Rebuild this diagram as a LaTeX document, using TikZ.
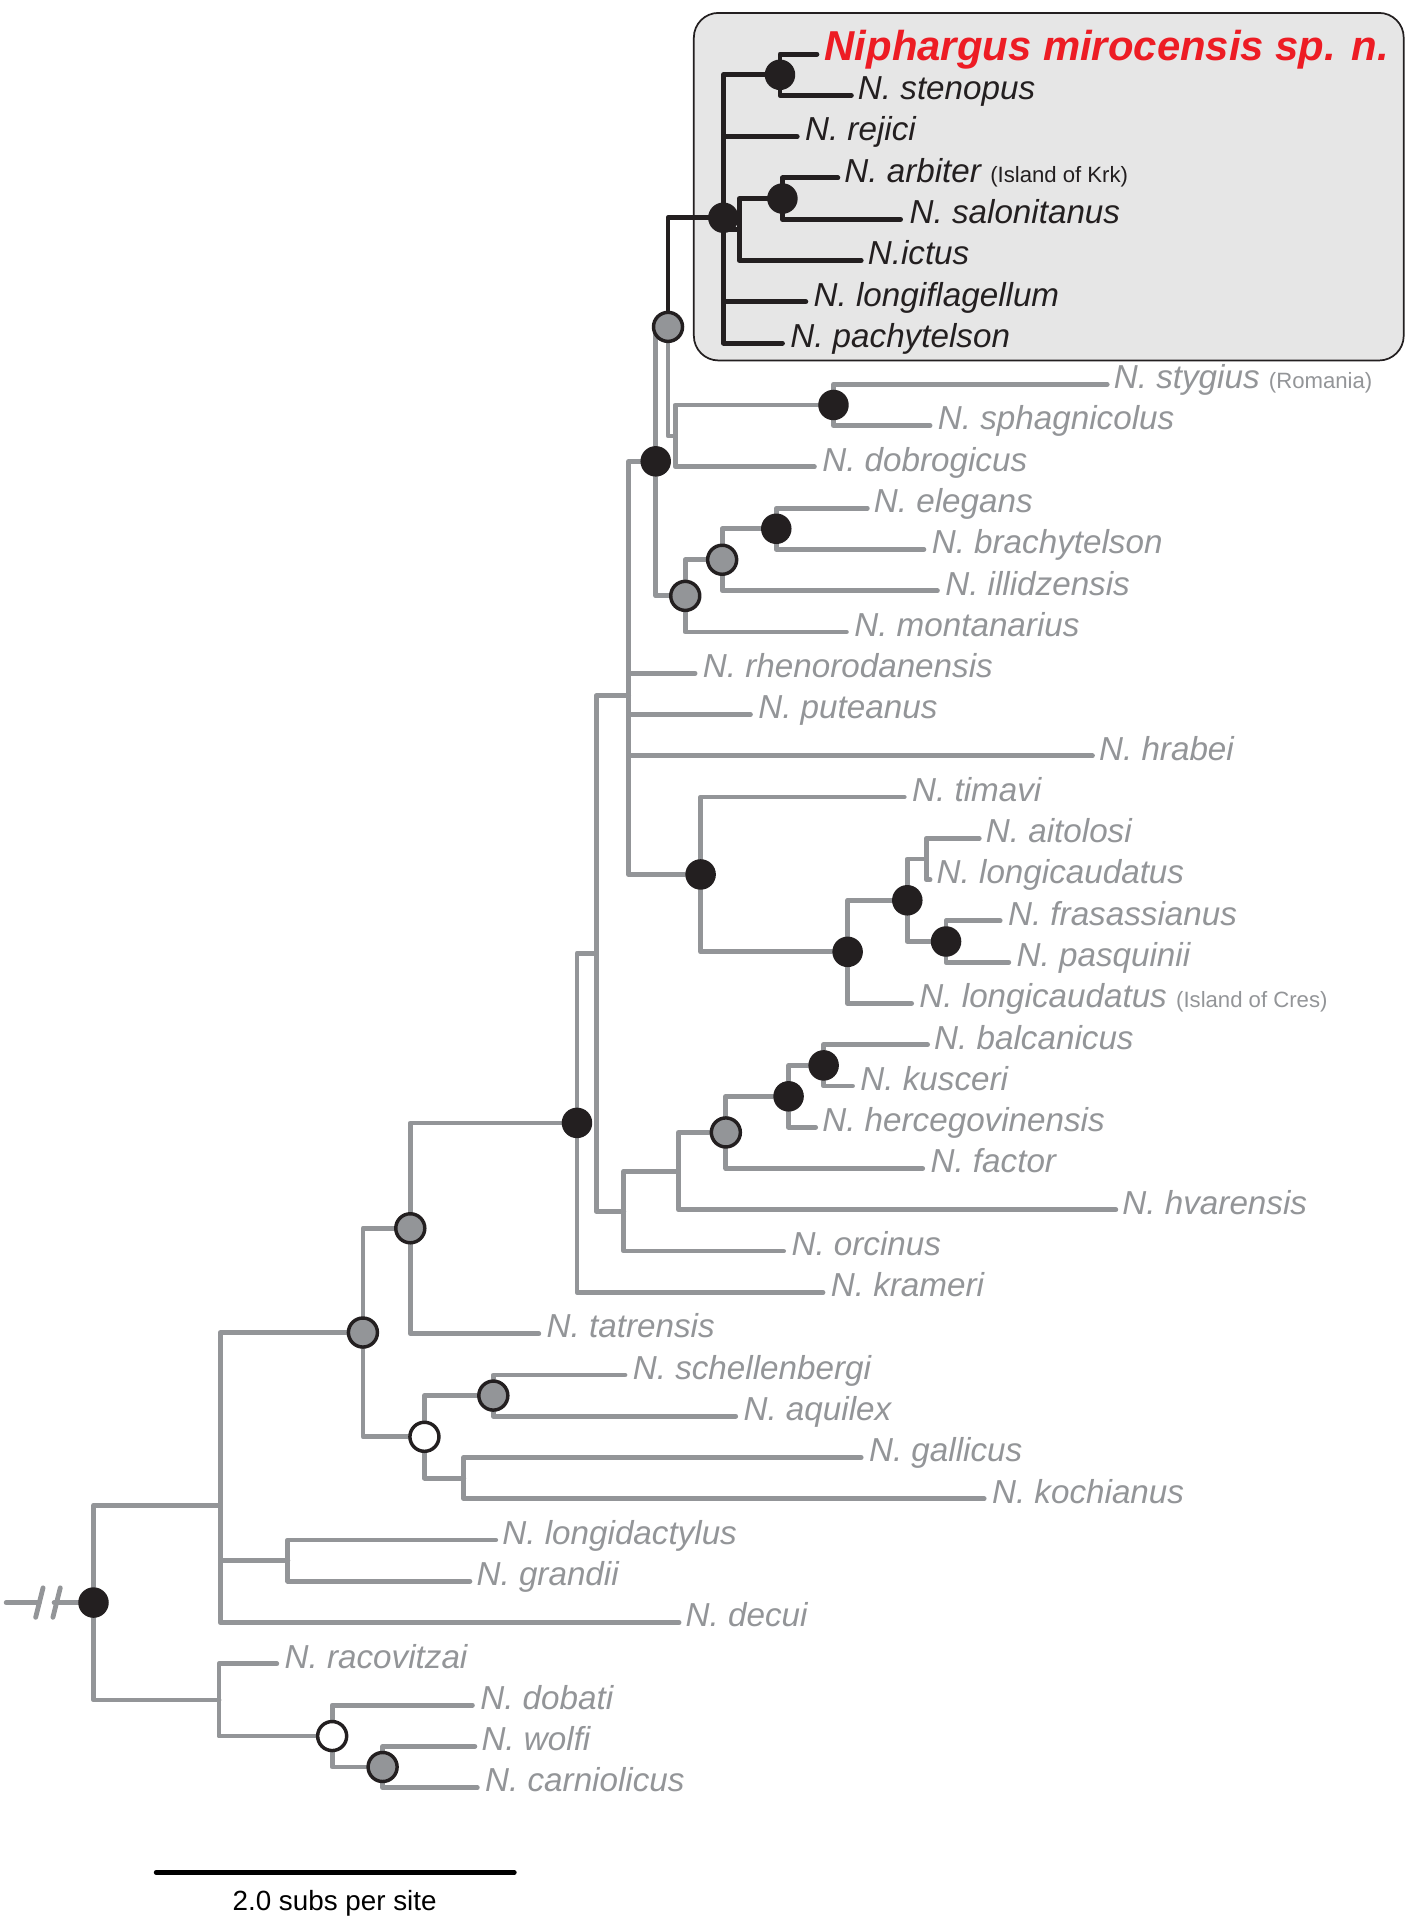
\documentclass[tikz,border=0pt]{standalone}
\usepackage{fontspec}
\setmainfont{Liberation Sans}
\definecolor{tgrey}{HTML}{939598}
\definecolor{tblack}{HTML}{231F20}
\definecolor{tred}{HTML}{ED1C24}
\definecolor{boxfill}{HTML}{E6E6E6}
\begin{document}
\begin{tikzpicture}[x=0.5pt,y=-0.5pt,
  gedge/.style={draw=tgrey, line width=1.95pt, line cap=round, line join=round},
  bedge/.style={draw=tblack, line width=2pt, line cap=round, line join=round},
  bdot/.style={circle, fill=tblack, inner sep=0pt, minimum size=12.4pt},
  gdot/.style={circle, fill=tgrey, draw=tblack, line width=1.4pt, inner sep=0pt, minimum size=11.8pt},
  wdot/.style={circle, fill=white, draw=tblack, line width=1.4pt, inner sep=0pt, minimum size=11.8pt},
  lab/.style={anchor=base west, inner sep=0pt, text=tgrey, font=\fontsize{13.5}{16}\selectfont\itshape},
  blab/.style={lab, text=tblack},
  rlab/.style={anchor=base west, inner sep=0pt, text=tred, font=\fontsize{17}{20}\selectfont\bfseries\itshape},
  cladebox/.style={rectangle, rounded corners=10pt, draw=tblack, line width=0.7pt, fill=boxfill, inner sep=0pt}
]
\useasboundingbox (0,0) rectangle (1152,1568);
\fill[white] (0,0) rectangle (1152,1568);
\newcommand{\smallp}[1]{{\fontsize{9}{10}\selectfont\upshape #1}}

% clade box
\node[cladebox, minimum width=288.5pt, minimum height=141.25pt] (clade) at (852.5,151.75) {};

% internal nodes
\coordinate (nRoot) at (76,1302.65);
\coordinate (nZ) at (179,1223.5);
\coordinate (nDD) at (178,1381.8);
\coordinate (nX) at (295,1083.15);
\coordinate (nCC) at (234,1268.6);
\coordinate (nW) at (333.5,998.4);
\coordinate (nY) at (345,1167.9);
\coordinate (nAA) at (401,1134.4);
\coordinate (nBB) at (377,1201.5);
\coordinate (nJ) at (469,912.75);
\coordinate (nK) at (484.6,775);
\coordinate (nL) at (507,984.45);
\coordinate (nM) at (551.5,951.95);
\coordinate (nN) at (590,920.5);
\coordinate (nO) at (641,891.15);
\coordinate (nP) at (669.5,866);
\coordinate (nH) at (511,565.6);
\coordinate (nB) at (533,375);
\coordinate (nC) at (543,265.7);
\coordinate (nD) at (549,354.35);
\coordinate (nE) at (677.5,329.2);
\coordinate (nF) at (557,484.35);
\coordinate (nU) at (587,455);
\coordinate (nV) at (631,429.8);
\coordinate (nG) at (569.5,710.8);
\coordinate (nQ) at (689,773.7);
\coordinate (nR) at (737.5,731.8);
\coordinate (nS) at (753,698.2);
\coordinate (nT) at (769,765.3);
\coordinate (nA) at (588,177);
\coordinate (nMS) at (634,60.8);
\coordinate (nSub) at (601,186.6);
\coordinate (nAS) at (636,161.4);
\coordinate (nEE) at (270,1411.15);
\coordinate (nFF) at (311,1436.3);

% leaves: coordinate at branch end, label node
\coordinate (l1) at (664,44.0);
\node[rlab] (tl1) at (670,49.5) {Niphargus mirocensis sp. n.};
\coordinate (l2) at (692,77.55);  \node[blab] (tl2) at (697,81.05) {N. stenopus};
\coordinate (l3) at (648,111.1);  \node[blab] (tl3) at (654,114.6) {N. rejici};
\coordinate (l4) at (681,144.65); \node[blab] (tl4) at (686,148.15) {N. arbiter \smallp{(Island of Krk)}};
\coordinate (l5) at (732,178.2);  \node[blab] (tl5) at (739,181.7) {N. salonitanus};
\coordinate (l6) at (700,211.75); \node[blab] (tl6) at (705,215.25) {N.ictus};
\coordinate (l7) at (655,245.3);  \node[blab] (tl7) at (661,248.8) {N. longiflagellum};
\coordinate (l8) at (636,278.85); \node[blab] (tl8) at (642,282.35) {N. pachytelson};
\coordinate (l9) at (900,312.4);  \node[lab] (tl9) at (905,315.9) {N. stygius \smallp{(Romania)}};
\coordinate (l10) at (756,345.95); \node[lab] (tl10) at (762,349.45) {N. sphagnicolus};
\coordinate (l11) at (662,379.5);  \node[lab] (tl11) at (668,383) {N. dobrogicus};
\coordinate (l12) at (705,413.05); \node[lab] (tl12) at (710,416.55) {N. elegans};
\coordinate (l13) at (751,446.6);  \node[lab] (tl13) at (757,450.1) {N. brachytelson};
\coordinate (l14) at (762,480.15); \node[lab] (tl14) at (768,483.65) {N. illidzensis};
\coordinate (l15) at (688,513.7);  \node[lab] (tl15) at (694,517.2) {N. montanarius};
\coordinate (l16) at (565,547.25); \node[lab] (tl16) at (571,550.75) {N. rhenorodanensis};
\coordinate (l17) at (610,580.8);  \node[lab] (tl17) at (616,584.3) {N. puteanus};
\coordinate (l18) at (888,614.35); \node[lab] (tl18) at (893,617.85) {N. hrabei};
\coordinate (l19) at (735,647.9);  \node[lab] (tl19) at (741,651.4) {N. timavi};
\coordinate (l20) at (796,681.45); \node[lab] (tl20) at (801,684.95) {N. aitolosi};
\coordinate (l21) at (756,715.0);  \node[lab] (tl21) at (761,718.5) {N. longicaudatus};
\coordinate (l22) at (813,748.55); \node[lab] (tl22) at (819,752.05) {N. frasassianus};
\coordinate (l23) at (820,782.1);  \node[lab] (tl23) at (826,785.6) {N. pasquinii};
\coordinate (l24) at (741,815.65); \node[lab] (tl24) at (747,819.15) {N. longicaudatus \smallp{(Island of Cres)}};
\coordinate (l25) at (754,849.2);  \node[lab] (tl25) at (759,852.7) {N. balcanicus};
\coordinate (l26) at (693,882.75); \node[lab] (tl26) at (699,886.25) {N. kusceri};
\coordinate (l27) at (663,916.3);  \node[lab] (tl27) at (668,919.8) {N. hercegovinensis};
\coordinate (l28) at (750,949.85); \node[lab] (tl28) at (756,953.35) {N. factor};
\coordinate (l29) at (907,983.4);  \node[lab] (tl29) at (912,986.9) {N. hvarensis};
\coordinate (l30) at (637,1016.95); \node[lab] (tl30) at (643,1020.45) {N. orcinus};
\coordinate (l31) at (669,1050.5);  \node[lab] (tl31) at (675,1054) {N. krameri};
\coordinate (l32) at (438,1084.05); \node[lab] (tl32) at (444,1087.55) {N. tatrensis};
\coordinate (l33) at (508,1117.6);  \node[lab] (tl33) at (514,1121.1) {N. schellenbergi};
\coordinate (l34) at (598,1151.15); \node[lab] (tl34) at (604,1154.65) {N. aquilex};
\coordinate (l35) at (700,1184.7);  \node[lab] (tl35) at (706,1188.2) {N. gallicus};
\coordinate (l36) at (800,1218.25); \node[lab] (tl36) at (806,1221.75) {N. kochianus};
\coordinate (l37) at (403,1251.8);  \node[lab] (tl37) at (408,1255.3) {N. longidactylus};
\coordinate (l38) at (382,1285.35); \node[lab] (tl38) at (387,1288.85) {N. grandii};
\coordinate (l39) at (552,1318.9);  \node[lab] (tl39) at (557,1322.4) {N. decui};
\coordinate (l40) at (225,1352.45); \node[lab] (tl40) at (231,1355.95) {N. racovitzai};
\coordinate (l41) at (384,1386.0);  \node[lab] (tl41) at (390,1389.5) {N. dobati};
\coordinate (l42) at (386,1419.55); \node[lab] (tl42) at (391,1423.05) {N. wolfi};
\coordinate (l43) at (388,1453.1);  \node[lab] (tl43) at (394,1456.6) {N. carniolicus};

% grey edges
\draw[gedge] (nRoot) |- (nZ) (nRoot) |- (nDD);
\draw[gedge] (nZ) |- (nX) (nZ) |- (nCC) (nZ) |- (l39);
\draw[gedge] (nX) |- (nW) (nX) |- (nY);
\draw[gedge] (nW) |- (nJ) (nW) |- (l32);
\draw[gedge] (nJ) |- (nK) (nJ) |- (l31);
\draw[gedge] (nK) |- (nH) (nK) |- (nL);
\draw[gedge] (nH) |- (nB) (nH) |- (l16) (nH) |- (l17) (nH) |- (l18) (nH) |- (nG);
\draw[gedge] (nB) |- (nC) (nB) |- (nF);
\draw[gedge] (nC) |- (nD);
\draw[gedge] (nD) |- (nE) (nD) |- (l11);
\draw[gedge] (nE) |- (l9) (nE) |- (l10);
\draw[gedge] (nF) |- (nU) (nF) |- (l15);
\draw[gedge] (nU) |- (nV) (nU) |- (l14);
\draw[gedge] (nV) |- (l12) (nV) |- (l13);
\draw[gedge] (nG) |- (l19) (nG) |- (nQ);
\draw[gedge] (nQ) |- (nR) (nQ) |- (l24);
\draw[gedge] (nR) |- (nS) (nR) |- (nT);
\draw[gedge] (nS) |- (l20) (nS) |- (l21);
\draw[gedge] (nT) |- (l22) (nT) |- (l23);
\draw[gedge] (nL) |- (nM) (nL) |- (l30);
\draw[gedge] (nM) |- (nN) (nM) |- (l29);
\draw[gedge] (nN) |- (nO) (nN) |- (l28);
\draw[gedge] (nO) |- (nP) (nO) |- (l27);
\draw[gedge] (nP) |- (l25) (nP) |- (l26);
\draw[gedge] (nY) |- (nAA) (nY) |- (nBB);
\draw[gedge] (nAA) |- (l33) (nAA) |- (l34);
\draw[gedge] (nBB) |- (l35) (nBB) |- (l36);
\draw[gedge] (nCC) |- (l37) (nCC) |- (l38);
\draw[gedge] (nDD) |- (l40) (nDD) |- (nEE);
\draw[gedge] (nEE) |- (l41) (nEE) |- (nFF);
\draw[gedge] (nFF) |- (l42) (nFF) |- (l43);

% black edges
\draw[bedge] (nC) |- (nA);
\draw[bedge] (nA) |- (nMS) (nA) |- (l3) (nA) |- (nSub) (nA) |- (l7) (nA) |- (l8);
\draw[bedge] (nMS) |- (l1) (nMS) |- (l2);
\draw[bedge] (nSub) |- (nAS) (nSub) |- (l6);
\draw[bedge] (nAS) |- (l4) (nAS) |- (l5);

% root stub with break marks
\coordinate (s0) at (5,1302.65);
\coordinate (s1) at (32,1302.65);
\coordinate (s2) at (44,1302.65);
\draw[gedge] (s0) -- (s1);
\draw[gedge] (s2) -- (nRoot);
\draw[gedge] ([shift={(-3,12)}]s1) -- ([shift={(3,-12)}]s1);
\draw[gedge] ([shift={(-1,12)}]s2) -- ([shift={(5,-12)}]s2);

% support circles
\node[bdot] (cRoot) at (nRoot) {};
\node[bdot] (cA) at (nA) {};
\node[bdot] (cMS) at (nMS) {};
\node[bdot] (cAS) at (nAS) {};
\node[gdot] (cC) at (nC) {};
\node[bdot] (cB) at (nB) {};
\node[bdot] (cE) at (nE) {};
\node[bdot] (cV) at (nV) {};
\node[gdot] (cU) at (nU) {};
\node[gdot] (cF) at (nF) {};
\node[bdot] (cG) at (nG) {};
\node[bdot] (cQ) at (nQ) {};
\node[bdot] (cR) at (nR) {};
\node[bdot] (cT) at (nT) {};
\node[bdot] (cP) at (nP) {};
\node[bdot] (cO) at (nO) {};
\node[gdot] (cN) at (nN) {};
\node[bdot] (cJ) at (nJ) {};
\node[gdot] (cW) at (nW) {};
\node[gdot] (cX) at (nX) {};
\node[wdot] (cY) at (nY) {};
\node[gdot] (cAA) at (nAA) {};
\node[wdot] (cEE) at (nEE) {};
\node[gdot] (cFF) at (nFF) {};

% scale bar
\coordinate (sb0) at (127,1522);
\coordinate (sb1) at (418,1522);
\draw[draw=black, line width=2pt, line cap=round] (sb0) -- (sb1);
\node[anchor=base, inner sep=0pt, font=\fontsize{11.3}{13}\selectfont] (sbt) at (272,1553) {2.0 subs per site};
\end{tikzpicture}
\end{document}
